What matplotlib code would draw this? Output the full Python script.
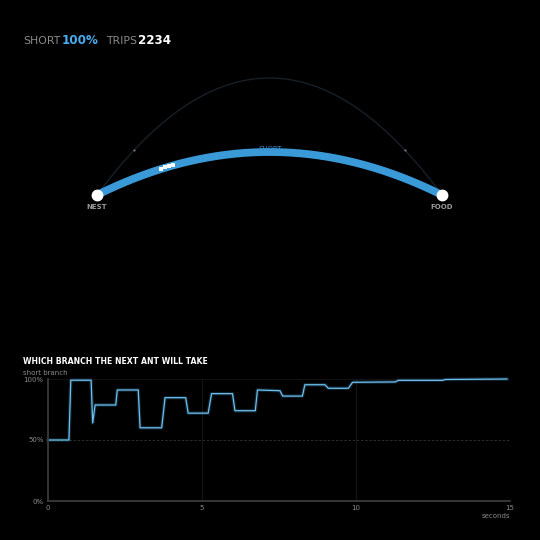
import numpy as np
import matplotlib.pyplot as plt

# diagram geometry (pixel space of the 540x540 canvas)
nest = (97, 195)
food = (442, 195)
short_apex = 152
long_apex = 78
short_ants_x = [161, 165, 169, 173]
long_ants_x = [134, 405]

short_pct = "100%"
trips = "2234"

# chart series: probability the next ant takes the short branch
t = [0, 0.68, 0.74, 1.40, 1.45, 1.53, 2.20, 2.25, 2.93, 2.99, 3.69, 3.80,
     4.47, 4.55, 5.20, 5.31, 5.99, 6.07, 6.73, 6.80, 7.53, 7.62, 8.26, 8.34,
     8.99, 9.10, 9.75, 9.89, 11.27, 11.38, 12.81, 12.90, 14.90]
p = [50, 50, 99, 99, 64, 78.7, 78.7, 91, 91, 60, 60, 84.7,
     84.7, 72, 72, 88, 88, 74, 74, 91, 90.4, 86, 86, 95.3,
     95.3, 92.4, 92.4, 97.3, 97.6, 98.9, 98.9, 99.6, 100]
xticks = [0, 5, 10, 15]
yticks = [0, 50, 100]


def arc(apex, x):
    mid = (nest[0] + food[0]) / 2
    half = (food[0] - nest[0]) / 2
    return apex + (nest[1] - apex) * ((x - mid) / half) ** 2


fig = plt.figure(figsize=(5.4, 5.4), dpi=100, facecolor='black')

# ---- top diagram ----
ax = fig.add_axes([0, 0, 1, 1])
ax.set_xlim(0, 540)
ax.set_ylim(540, 0)
ax.axis('off')
ax.set_facecolor('black')

xs = np.linspace(nest[0], food[0], 300)
ax.plot(xs, arc(long_apex, xs), color='#18232b', lw=0.9, zorder=1)
ax.plot(xs, arc(short_apex, xs), color='#3a9ad8', lw=5.6,
        solid_capstyle='round', zorder=2)
for x in short_ants_x:
    ax.plot(x, arc(short_apex, x) - 0.5, marker='s', ms=2.8, color='white',
            mew=0, zorder=3)
for x in long_ants_x:
    ax.plot(x, arc(long_apex, x), marker='o', ms=1.6, color='#777777',
            mew=0, zorder=3)
ax.plot(*nest, marker='o', ms=7.5, color='white', zorder=4)
ax.plot(*food, marker='o', ms=7.5, color='white', zorder=4)
ax.text(nest[0], nest[1] + 12, 'NEST', color='#9a9a9a', fontsize=5,
        ha='center', va='center', fontweight='bold')
ax.text(food[0], food[1] + 12, 'FOOD', color='#9a9a9a', fontsize=5,
        ha='center', va='center', fontweight='bold')
ax.text(270, 149, 'SHORT', color='#3a8ccc', fontsize=5, ha='center',
        va='center')

ax.text(23, 41, 'SHORT', color='#8a8a8a', fontsize=7.8, va='center')
ax.text(62, 41, short_pct, color='#46aef0', fontsize=8.6, va='center',
        fontweight='bold')
ax.text(106, 41, 'TRIPS', color='#8a8a8a', fontsize=7.8, va='center')
ax.text(138, 41, trips, color='white', fontsize=8.6, va='center',
        fontweight='bold')

# ---- bottom chart ----
cx = fig.add_axes([48 / 540, 39 / 540, 462 / 540, 122 / 540])
cx.set_facecolor('black')
cx.set_xlim(0, 15)
cx.set_ylim(0, 100)
for s in ['top', 'right']:
    cx.spines[s].set_visible(False)
for s in ['left', 'bottom']:
    cx.spines[s].set_color('#3a3a3a')
    cx.spines[s].set_linewidth(1.3)
for v in xticks[1:]:
    cx.axvline(v, color='#151515', lw=0.8, zorder=0)
cx.axhline(50, color='#333333', lw=0.6, ls=(0, (3, 2)), zorder=0)
cx.axhline(100, color='#151515', lw=0.6, zorder=0)

cx.plot(t, p, color='#5ab4ea', lw=2.6, alpha=0.2, clip_on=False)
cx.plot(t, p, color='#6cc0f0', lw=0.9, clip_on=False)

cx.set_xticks(xticks)
cx.set_xticklabels([str(v) for v in xticks])
cx.set_yticks(yticks)
cx.set_yticklabels([f'{v}%' for v in yticks])
cx.tick_params(colors='#8a8a8a', labelsize=5, length=0, pad=3)
cx.text(15, -10, 'seconds', color='#8a8a8a', fontsize=5, ha='right',
        va='top', transform=cx.transData, clip_on=False)
fig.text(23 / 540, 1 - 373 / 540, 'short branch', color='#8a8a8a',
         fontsize=5, va='center')
fig.text(23 / 540, 1 - 361 / 540, 'WHICH BRANCH THE NEXT ANT WILL TAKE',
         color='white', fontsize=5.6, va='center', fontweight='bold')

fig.savefig('out.png', dpi=100, facecolor='black')
